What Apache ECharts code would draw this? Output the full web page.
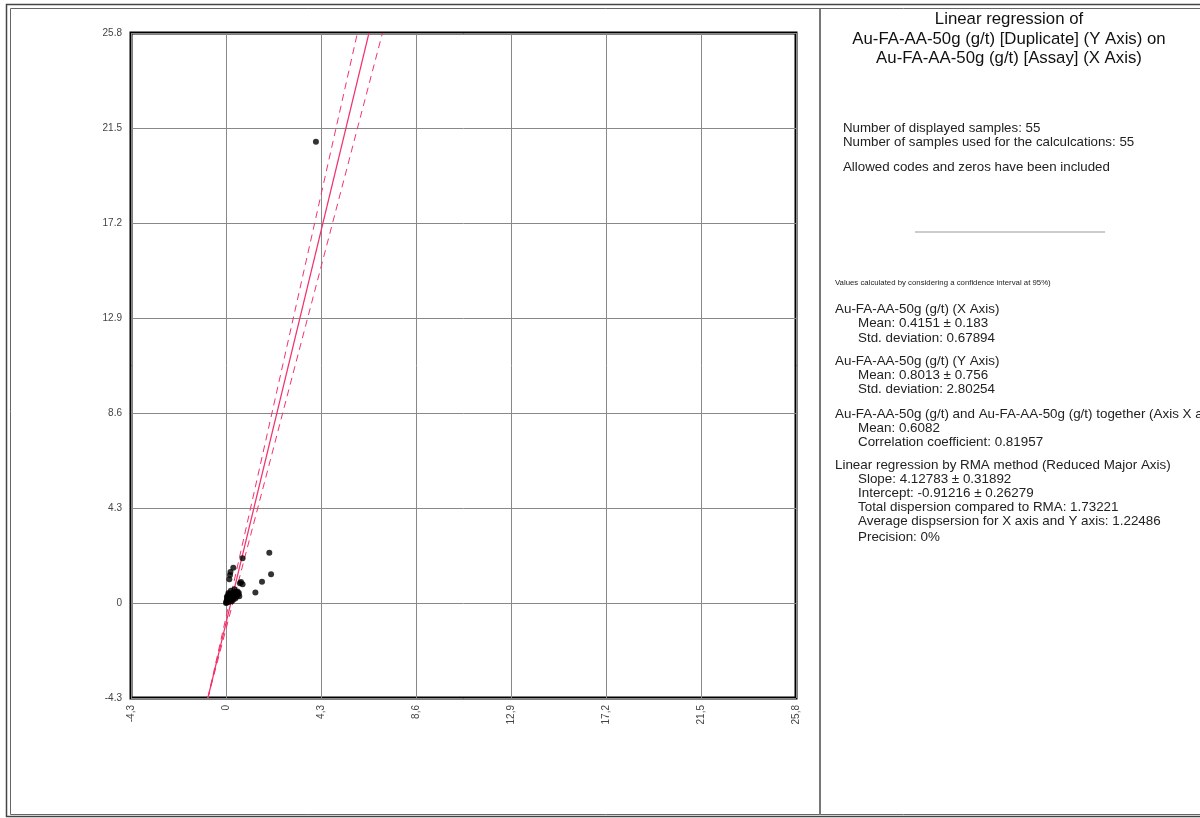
<!DOCTYPE html>
<html>
<head>
<meta charset="utf-8">
<script src="https://cdn.jsdelivr.net/npm/echarts@6/dist/echarts.min.js"></script>
<style>
html,body{margin:0;padding:0;background:#fff;}
#chart{width:1200px;height:818px;}
</style>
</head>
<body>
<div id="chart"></div>
<script>
// samples: Assay (x) vs Duplicate (y), g/t
var assay = [4.07, 1.96, 2.04, 1.63, 1.33, 0.75, 0.33, 0.18, 0.15, 0.20,
    0.63, 0.75, 0.68, 0.55, 0.60, 0.45, 0.38, 0.30, 0.25, 0.22,
    0.12, 0.08, 0.05, 0.02, 0.00, 0.03, 0.10, 0.15, 0.18, 0.28,
    0.35, 0.40, 0.50, 0.42, 0.32, 0.20, 0.12, 0.06, 0.09, 0.14,
    0.24, 0.27, 0.36, 0.48, 0.58, 0.05, 0.10, 0.16, 0.22, 0.30,
    0.04, 0.11, 0.26, 0.52, 0.34];
var duplicate = [20.88, 2.28, 1.30, 0.96, 0.48, 2.02, 1.60, 1.27, 1.07, 1.40,
    0.89, 0.85, 0.95, 0.40, 0.30, 0.50, 0.62, 0.45, 0.35, 0.55,
    0.40, 0.30, 0.20, 0.05, 0.00, 0.10, 0.15, 0.22, 0.30, 0.25,
    0.30, 0.38, 0.35, 0.20, 0.15, 0.10, 0.05, 0.12, 0.22, 0.33,
    0.42, 0.18, 0.48, 0.28, 0.45, 0.02, 0.08, 0.12, 0.20, 0.33,
    0.28, 0.45, 0.08, 0.52, 0.24];

// RMA regression results
var slope = 4.12783, slopeErr = 0.31892;
var intercept = -0.91216, interceptErr = 0.26279;

var axisMin = -4.3, axisMax = 25.8, axisStep = 4.3;

var statLines = [
    {t: 'Values calculated by considering a confidence interval at 95%)', x: 835, y: 283, s: 7.8},
    {t: 'Au-FA-AA-50g (g/t) (X Axis)', x: 835, y: 309},
    {t: 'Mean: 0.4151 ± 0.183', x: 858, y: 323},
    {t: 'Std. deviation: 0.67894', x: 858, y: 338},
    {t: 'Au-FA-AA-50g (g/t) (Y Axis)', x: 835, y: 361},
    {t: 'Mean: 0.8013 ± 0.756', x: 858, y: 375},
    {t: 'Std. deviation: 2.80254', x: 858, y: 389},
    {t: 'Au-FA-AA-50g (g/t) and Au-FA-AA-50g (g/t) together (Axis X and Y)', x: 835, y: 414},
    {t: 'Mean: 0.6082', x: 858, y: 428},
    {t: 'Correlation coefficient: 0.81957', x: 858, y: 442},
    {t: 'Linear regression by RMA method (Reduced Major Axis)', x: 835, y: 465},
    {t: 'Slope: 4.12783 ± 0.31892', x: 858, y: 479},
    {t: 'Intercept: -0.91216 ± 0.26279', x: 858, y: 493},
    {t: 'Total dispersion compared to RMA: 1.73221', x: 858, y: 507},
    {t: 'Average dispsersion for X axis and Y axis: 1.22486', x: 858, y: 521},
    {t: 'Precision: 0%', x: 858, y: 537}
];

function lineThrough(a, b) {
    // endpoints where the line meets the bottom and top of the axis range
    return [[(axisMin - b) / a, axisMin], [(axisMax - b) / a, axisMax]];
}

function fmt(sep) {
    return function (v) {
        if (Math.abs(v) < 1e-9) return '0';
        return (Math.round(v * 10) / 10).toFixed(1).replace('.', sep);
    };
}

var points = [];
for (var i = 0; i < assay.length; i++) points.push([assay[i], duplicate[i]]);

var font = '"Liberation Sans", Arial, sans-serif';
var pink = '#f2336b';

var graphics = [
    {type: 'rect', shape: {x: 6.5, y: 4.5, width: 1200, height: 812}, style: {fill: 'none', stroke: '#444', lineWidth: 1.5}},
    {type: 'rect', shape: {x: 10.5, y: 8.5, width: 1200, height: 806}, style: {fill: 'none', stroke: '#666', lineWidth: 1}},
    {type: 'line', shape: {x1: 820, y1: 9, x2: 820, y2: 815}, style: {stroke: '#777', lineWidth: 2}},
    {type: 'line', shape: {x1: 915, y1: 232, x2: 1105, y2: 232}, style: {stroke: '#999', lineWidth: 1}},
    {type: 'text', x: 1009, y: 10, style: {text: 'Linear regression of\nAu-FA-AA-50g (g/t) [Duplicate] (Y Axis) on\nAu-FA-AA-50g (g/t) [Assay] (X Axis)',
        font: '16.8px ' + font, fill: '#111', align: 'center', lineHeight: 19.5}},
    {type: 'text', x: 843, y: 128, style: {text: 'Number of displayed samples: 55', font: '13.3px ' + font, fill: '#222', verticalAlign: 'middle'}},
    {type: 'text', x: 843, y: 142, style: {text: 'Number of samples used for the calculcations: 55', font: '13.3px ' + font, fill: '#222', verticalAlign: 'middle'}},
    {type: 'text', x: 843, y: 167, style: {text: 'Allowed codes and zeros have been included', font: '13.3px ' + font, fill: '#222', verticalAlign: 'middle'}}
];
statLines.forEach(function (l) {
    graphics.push({type: 'text', x: l.x, y: l.y, style: {text: l.t, font: (l.s || 13.4) + 'px ' + font,
        fill: '#222', verticalAlign: 'middle'}});
});

var chart = echarts.init(document.getElementById('chart'));
chart.setOption({
    animation: false,
    backgroundColor: '#fff',
    grid: {left: 131, top: 33, width: 665, height: 665, show: true, borderColor: '#000', borderWidth: 3, backgroundColor: 'transparent'},
    xAxis: {
        type: 'value', min: axisMin, max: axisMax, interval: axisStep,
        axisLine: {show: false}, axisTick: {show: false},
        splitLine: {lineStyle: {color: '#888', width: 1}},
        axisLabel: {rotate: 90, fontSize: 10, color: '#444', fontFamily: font, margin: 7, formatter: fmt(',')}
    },
    yAxis: {
        type: 'value', min: axisMin, max: axisMax, interval: axisStep,
        axisLine: {show: false}, axisTick: {show: false},
        splitLine: {lineStyle: {color: '#888', width: 1}},
        axisLabel: {fontSize: 10, color: '#444', fontFamily: font, margin: 9, formatter: fmt('.')}
    },
    series: [
        {type: 'line', data: lineThrough(slope + slopeErr, intercept + interceptErr), symbol: 'none', clip: true,
            lineStyle: {color: pink, width: 1, type: [7, 5]}, z: 3},
        {type: 'line', data: lineThrough(slope - slopeErr, intercept - interceptErr), symbol: 'none', clip: true,
            lineStyle: {color: pink, width: 1, type: [7, 5]}, z: 3},
        {type: 'line', data: lineThrough(slope, intercept), symbol: 'none', clip: true,
            lineStyle: {color: pink, width: 1.2}, z: 3},
        {type: 'scatter', data: points, symbol: 'circle', symbolSize: 6, itemStyle: {color: '#000'}, z: 4}
    ],
    graphic: graphics
});
</script>
</body>
</html>
